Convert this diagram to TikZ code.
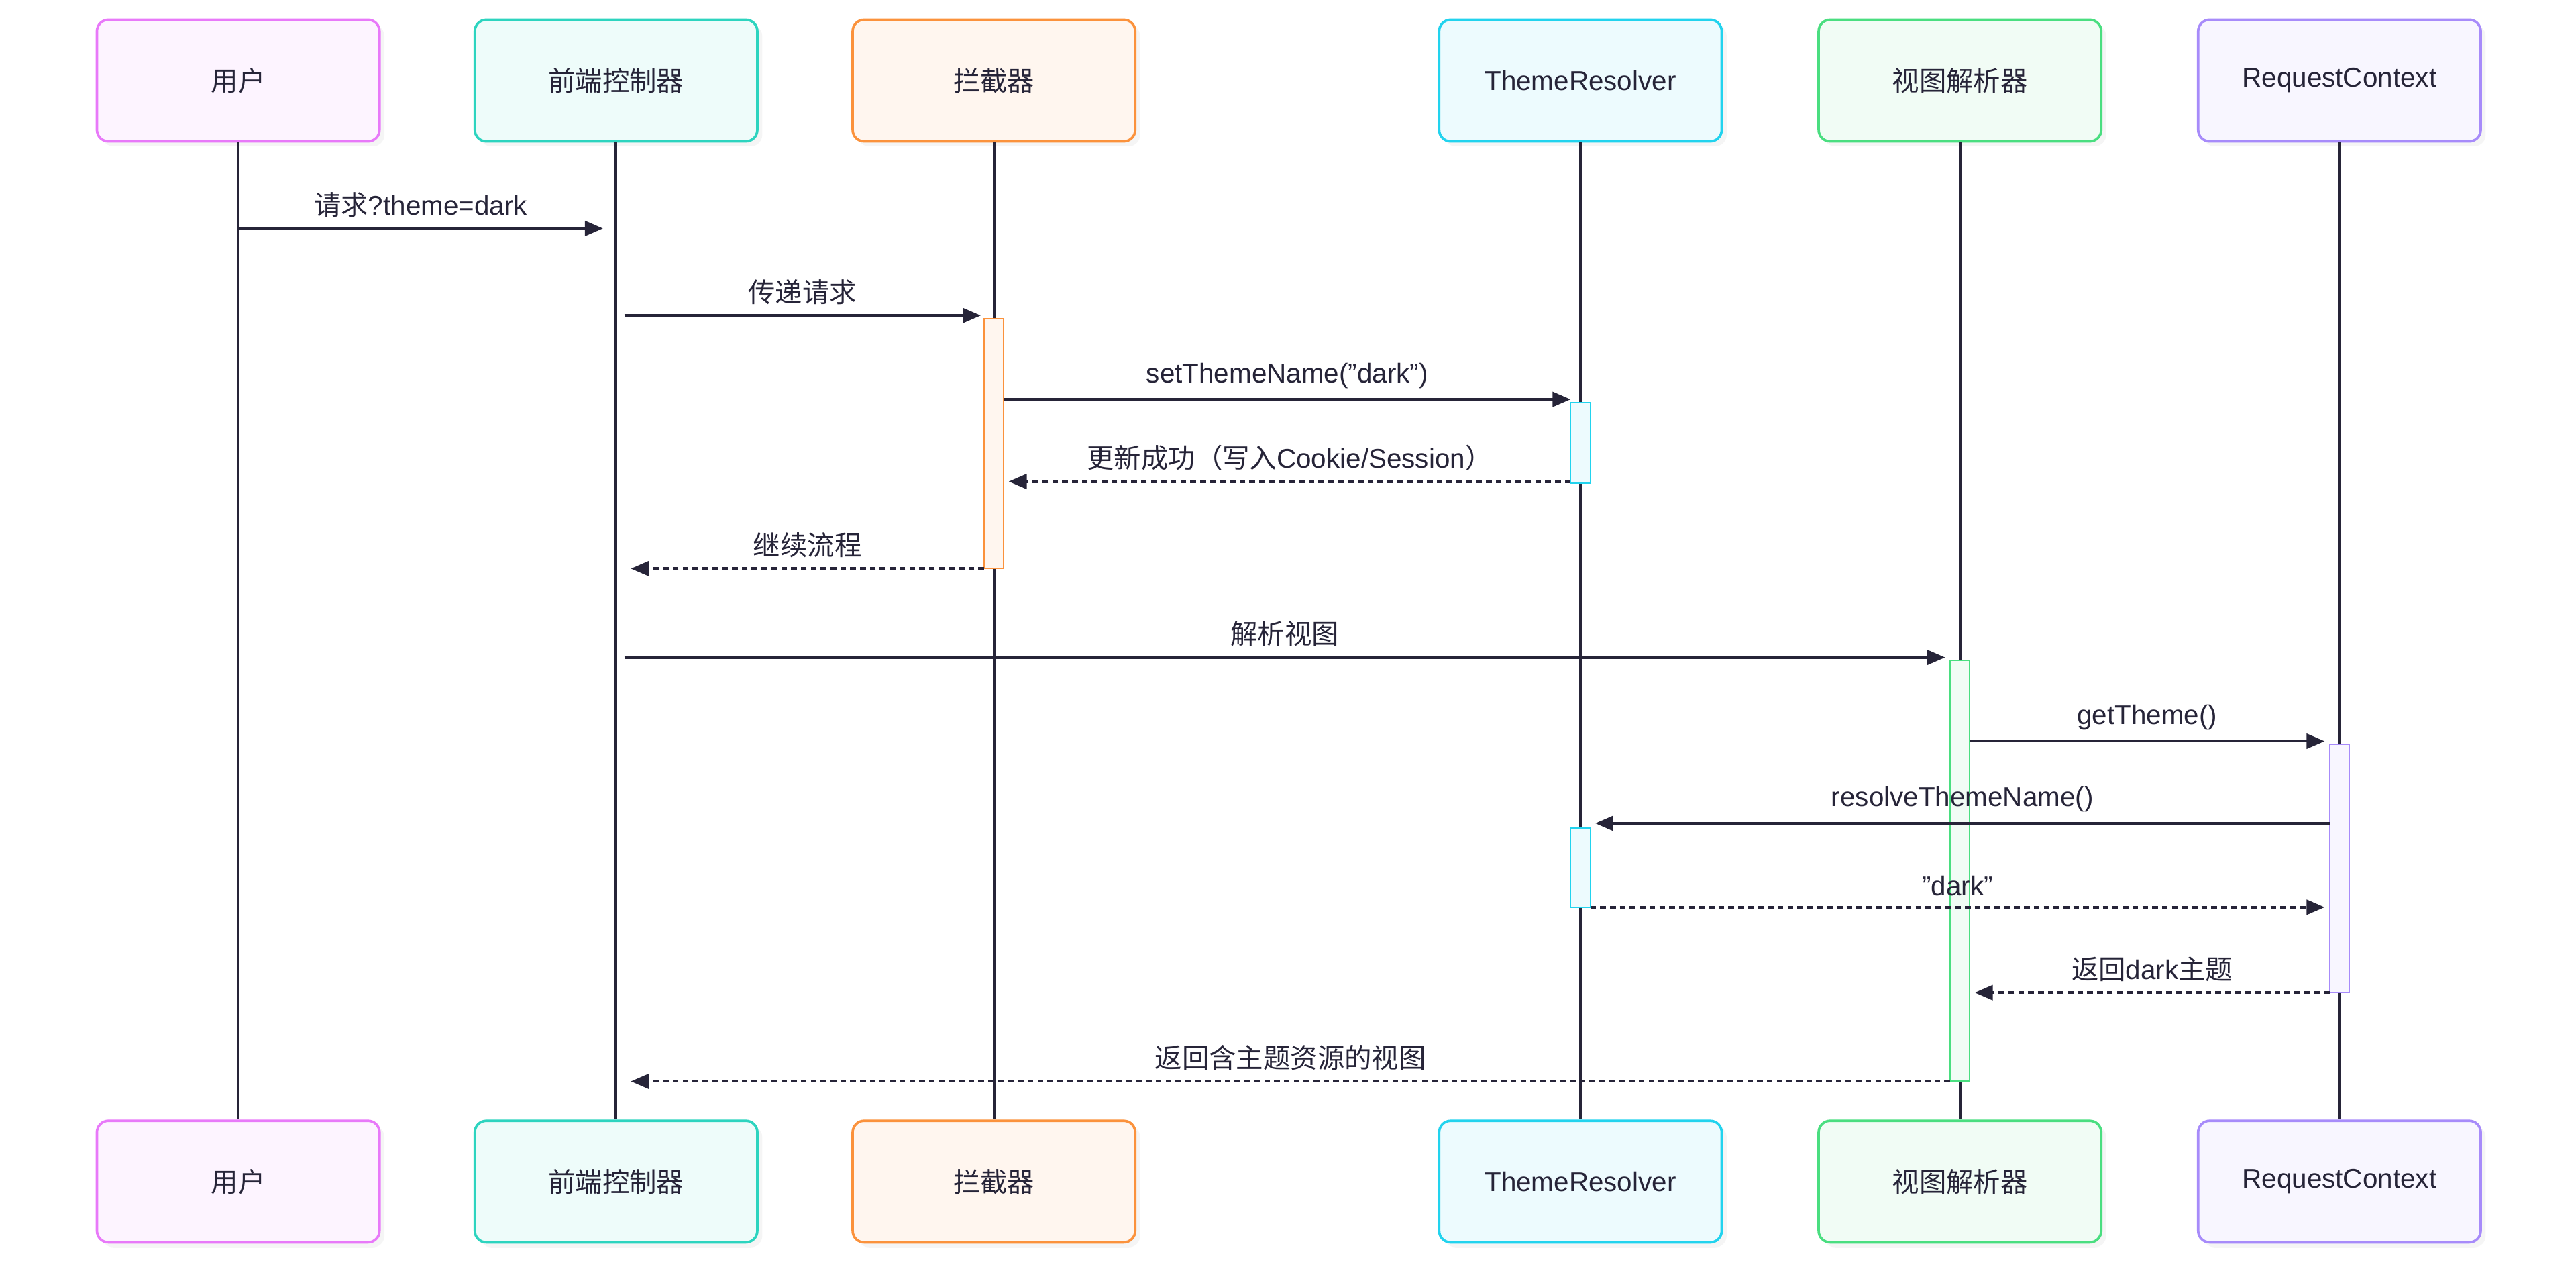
\documentclass[tikz,border=0pt]{standalone}
\usepackage{fontspec}
\setmainfont{Liberation Sans}
\newfontfamily\cjk{Noto Sans CJK SC}
\newcommand{\zh}[1]{{\cjk #1}}
\newcommand{\dq}{\symbol{34}}
\usetikzlibrary{arrows.meta,shadows}
\definecolor{ink}{HTML}{262438}
\definecolor{cU}{HTML}{E879F9}\definecolor{cF}{HTML}{2DD4BF}\definecolor{cI}{HTML}{FB923C}
\definecolor{cT}{HTML}{22D3EE}\definecolor{cV}{HTML}{4ADE80}\definecolor{cR}{HTML}{A78BFA}
\begin{document}
\begin{tikzpicture}[x=1pt,y=-1pt,font=\fontsize{16.5}{19}\selectfont,
 part/.style={draw=#1,line width=1.5pt,rounded corners=7pt,minimum width=172pt,minimum height=74pt,fill=#1!8,text=ink,drop shadow={shadow xshift=3pt,shadow yshift=-3pt,opacity=0.08}},
 life/.style={draw=ink,line width=1.6pt},
 act/.style={draw=#1,line width=0.8pt,fill=#1!8},
 msg/.style={draw=ink,line width=1.6pt,-{Triangle[length=11pt,width=9pt]}},
 ret/.style={msg,dash pattern=on 3.5pt off 2.5pt},
 lab/.style={text=ink,above=5pt,inner sep=1pt}]
\useasboundingbox (0,0) rectangle (1568,773);
\foreach \n/\x/\t in {U/145/\zh{用户},F/375/\zh{前端控制器},I/605/\zh{拦截器},T/962/ThemeResolver,V/1193/\zh{视图解析器},R/1424/RequestContext}{
 \node[part=c\n] (t\n) at (\x,49) {\t};
 \node[part=c\n] (b\n) at (\x,719) {\t};
 \draw[life] (t\n.south) -- (b\n.north);
}
\draw[act=cI] (599,194) rectangle (611,346);
\draw[act=cT] (956,245) rectangle (968,294);
\draw[act=cV] (1187,402) rectangle (1199,658);
\draw[act=cR] (1418,453) rectangle (1430,604);
\draw[act=cT] (956,504) rectangle (968,552);
\foreach \i/\y in {1/139,2/192,3/243,4/293,5/346,6/400,7/451,8/501,9/552,10/604,11/658}{\coordinate (r\i) at (0,\y);}
\draw[msg] (tU|-r1) -- ([xshift=-8pt]tF|-r1) node[lab,midway] {\zh{请求}?theme=dark};
\draw[msg] ([xshift=5pt]tF|-r2) -- ([xshift=-8pt]tI|-r2) node[lab,midway] {\zh{传递请求}};
\draw[msg] ([xshift=6pt]tI|-r3) -- ([xshift=-6pt]tT|-r3) node[lab,midway] {setThemeName(\dq dark\dq)};
\draw[ret] ([xshift=-6pt]tT|-r4) -- ([xshift=9pt]tI|-r4) node[lab,midway] {\zh{更新成功（写入}Cookie/Session\zh{）}};
\draw[ret] ([xshift=-6pt]tI|-r5) -- ([xshift=9pt]tF|-r5) node[lab,midway] {\zh{继续流程}};
\draw[msg] ([xshift=5pt]tF|-r6) -- ([xshift=-9pt]tV|-r6) node[lab,midway] {\zh{解析视图}};
\draw[msg] ([xshift=6pt]tV|-r7) -- ([xshift=-9pt]tR|-r7) node[lab,midway] {getTheme()};
\draw[msg] ([xshift=-6pt]tR|-r8) -- ([xshift=9pt]tT|-r8) node[lab,midway] {resolveThemeName()};
\draw[ret] ([xshift=6pt]tT|-r9) -- ([xshift=-9pt]tR|-r9) node[lab,midway] {\dq dark\dq};
\draw[ret] ([xshift=-6pt]tR|-r10) -- ([xshift=9pt]tV|-r10) node[lab,midway] {\zh{返回}dark\zh{主题}};
\draw[ret] ([xshift=-6pt]tV|-r11) -- ([xshift=9pt]tF|-r11) node[lab,midway] {\zh{返回含主题资源的视图}};
\end{tikzpicture}
\end{document}
